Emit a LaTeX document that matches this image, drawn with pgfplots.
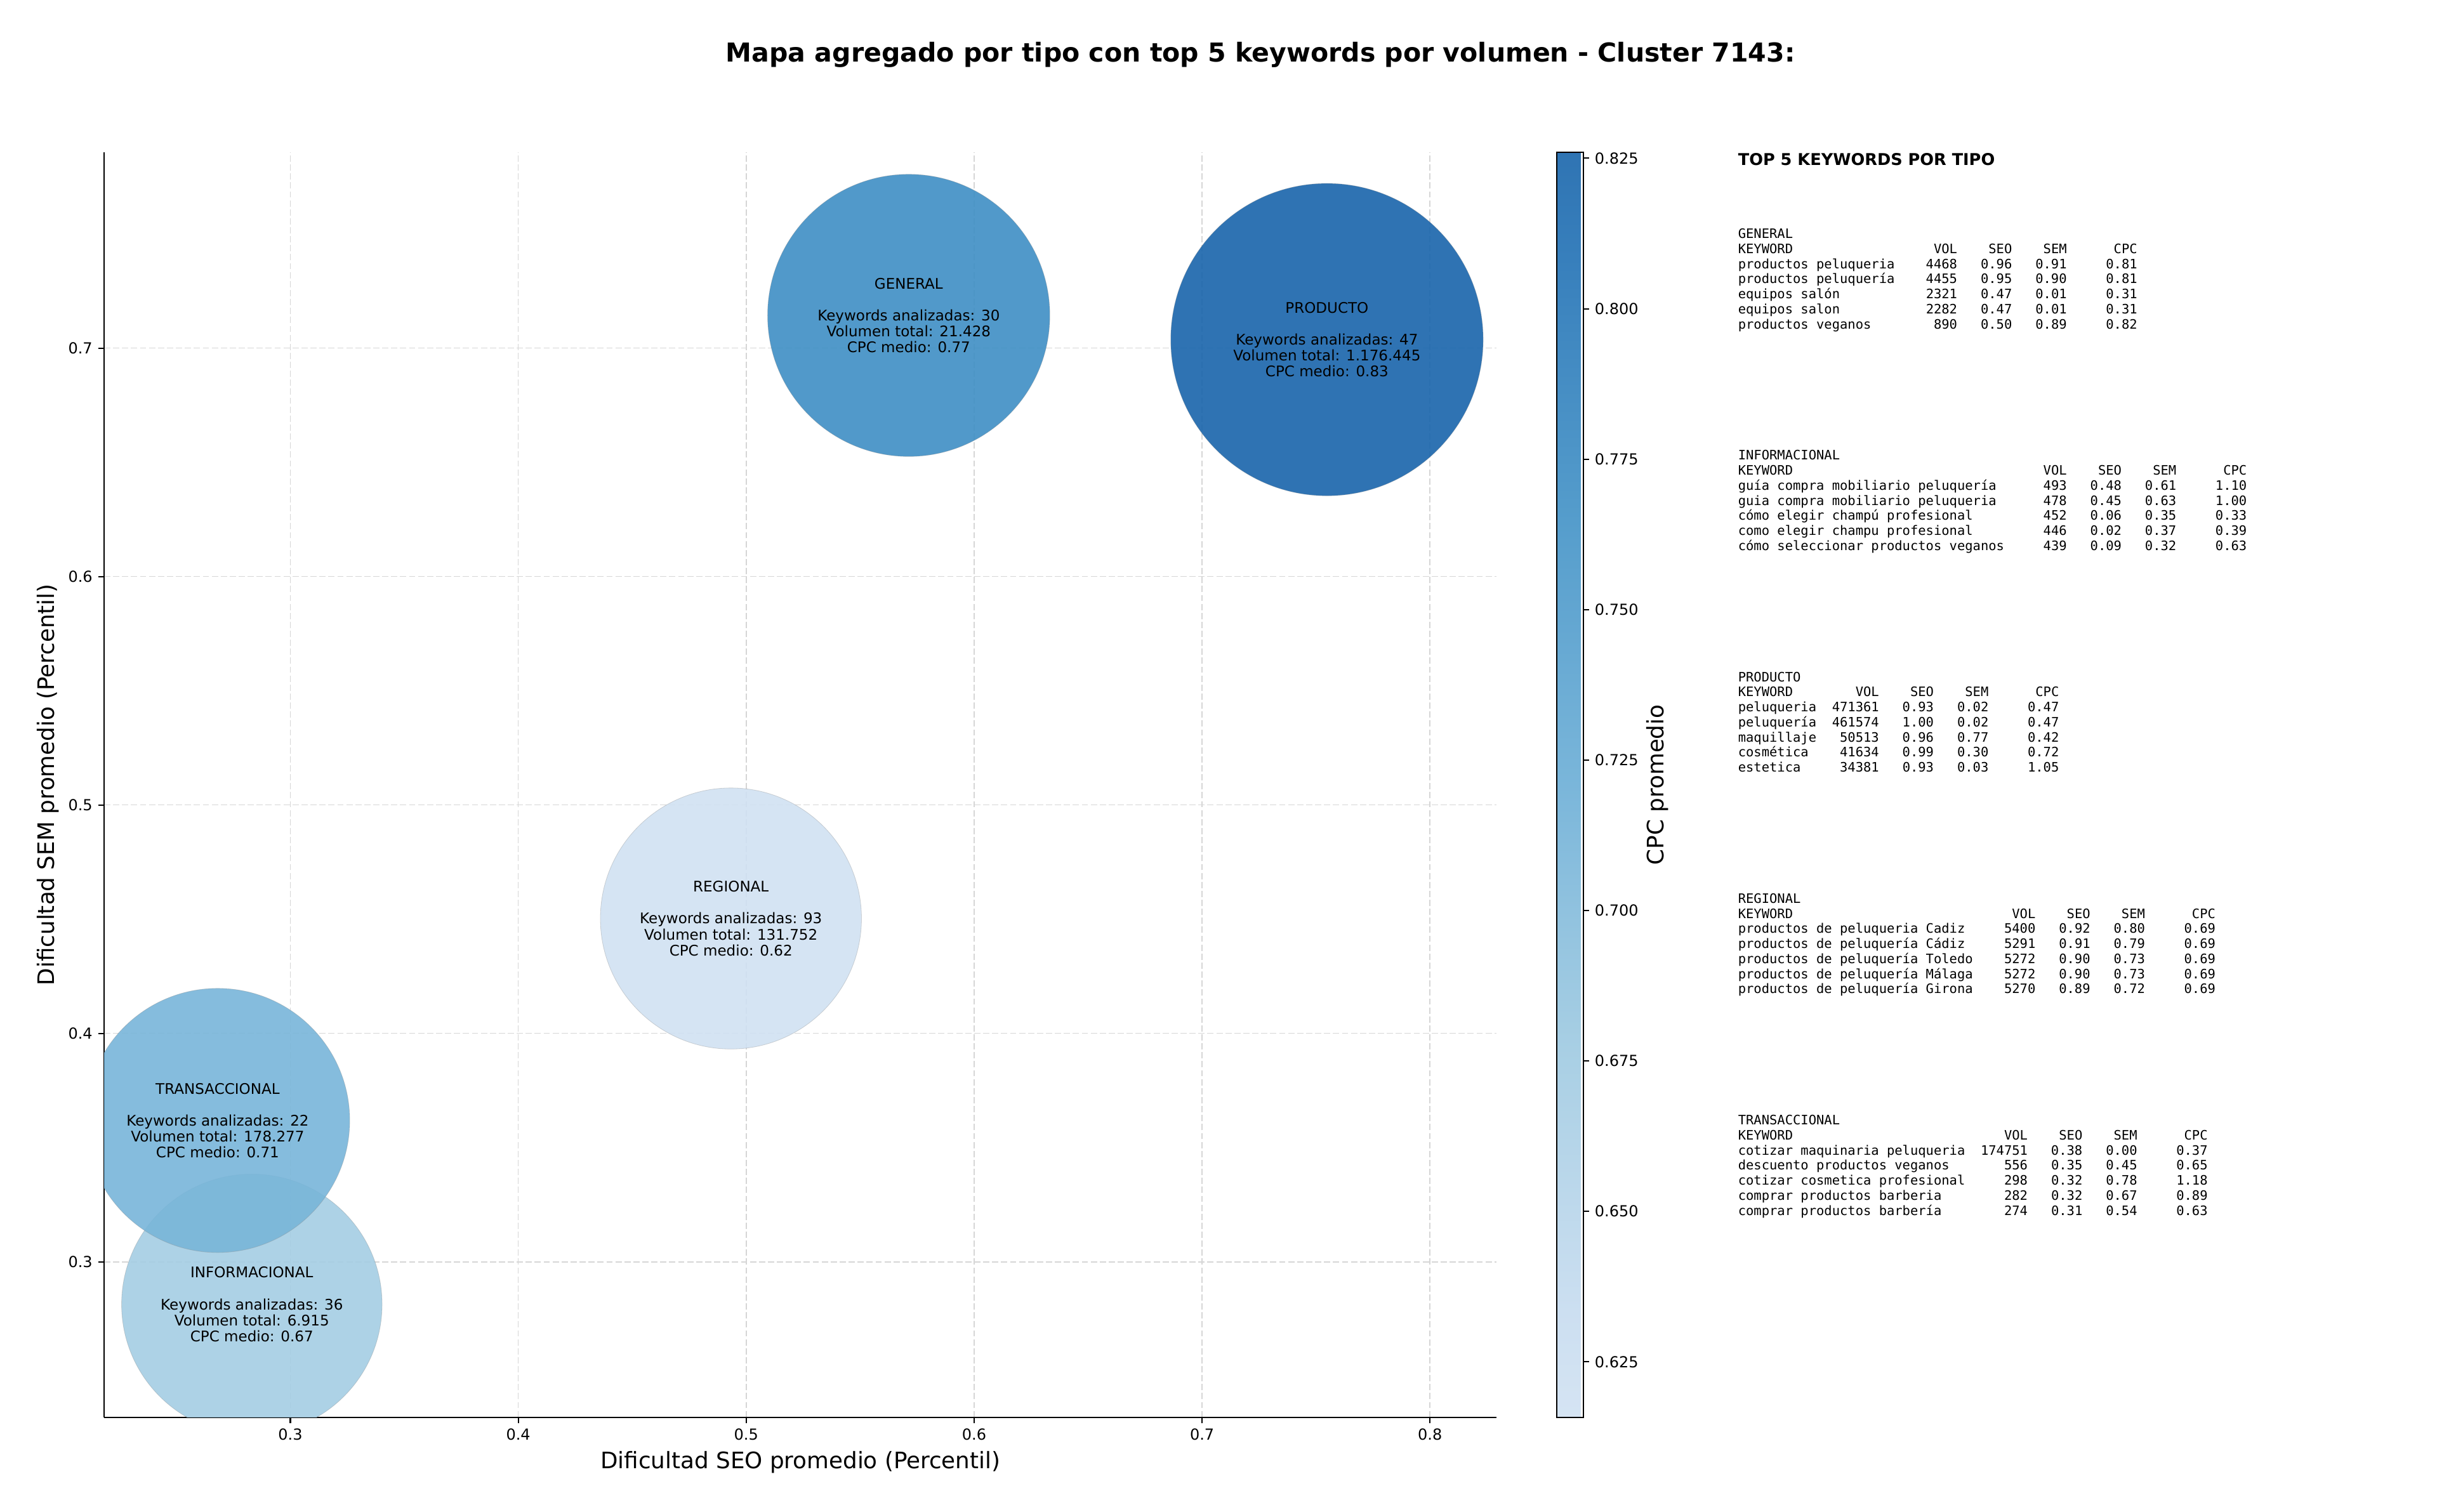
\documentclass[border=0pt]{standalone}
\usepackage{pgfplots}
\pgfplotsset{compat=1.18}
\usepackage{fontspec}
\setmainfont{DejaVu Sans}
\newfontfamily\monofont{DejaVu Sans Mono}
\newcommand\tabfont{\monofont\fontsize{7.68}{8.9}\selectfont}
\newcommand\bubfont{\fontsize{8.64}{9.4}\selectfont}
\newcommand\tickfont{\fontsize{9}{10}\selectfont}
\newcommand\labfont{\fontsize{13.4}{15}\selectfont}
\newlength\cw
\newcommand\row[6]{\makebox[#1\cw][l]{#2}\makebox[8\cw][r]{#3}\makebox[7\cw][r]{#4}\makebox[7\cw][r]{#5}\makebox[9\cw][r]{#6}}
\newcommand\tabline[3]{\node[anchor=base west, inner sep=0pt, font=\tabfont] at (1026.85pt,{-(#1+#2*8.91)*1pt}) {#3};}
\pgfplotsset{
 colormap={bluesraw}{rgb255(0cm)=(208,225,242); rgb255(0.833cm)=(198,219,239); rgb255(2.917cm)=(158,202,225); rgb255(5cm)=(107,174,214); rgb255(7.083cm)=(66,146,198); rgb255(9.167cm)=(33,113,181); rgb255(10cm)=(24,100,171)},
 colormap={bluesbar}{rgb255(0cm)=(213,228,243); rgb255(0.833cm)=(204,223,241); rgb255(2.917cm)=(168,207,228); rgb255(5cm)=(122,182,218); rgb255(7.083cm)=(85,157,204); rgb255(9.167cm)=(55,127,188); rgb255(10cm)=(47,116,179)},
}
\begin{document}
\settowidth\cw{\tabfont 0}%
\begin{tikzpicture}
\path[use as bounding box] (0pt,0pt) rectangle (1440pt,-893.6pt);
\node[anchor=base, inner sep=0pt, font=\bfseries\fontsize{15.4}{18}\selectfont] at (744.8pt,-36.46pt) {Mapa agregado por tipo con top 5 keywords por volumen - Cluster 7143:};
\begin{axis}[
  at={(61.53pt,-837.58pt)}, anchor=south west,
  scale only axis, width=822.89pt, height=747.58pt,
  xmin=0.2183, xmax=0.8293, ymin=0.232, ymax=0.7857,
  enlargelimits=false,
  axis x line*=bottom, axis y line*=left,
  axis line style={-, black, line width=0.77pt},
  tick pos=left, tick align=outside, major tick length=3.36pt,
  tick style={black, line width=0.77pt},
  xtick={0.3,0.4,0.5,0.6,0.7,0.8}, xticklabels={0.3,0.4,0.5,0.6,0.7,0.8},
  ytick={0.3,0.4,0.5,0.6,0.7}, yticklabels={0.3,0.4,0.5,0.6,0.7},
  ticklabel style={font=\tickfont},
  /pgf/number format/assume math mode=true,
  grid=major,
  grid style={black!16, line width=0.6pt, dash pattern=on 3.7pt off 1.6pt},
  xlabel={Dificultad SEO promedio (Percentil)},
  ylabel={Dificultad SEM promedio (Percentil)},
  xlabel style={at={(axis description cs:0.5,-0.0356)}, anchor=center, font=\labfont},
  ylabel style={at={(axis description cs:-0.0402,0.5)}, anchor=center, font=\labfont},
  clip marker paths=true,
  colormap name=bluesraw,
  point meta min=0.6158, point meta max=0.8260,
  colorbar,
  colorbar style={
    colormap name=bluesbar,
    at={(parent axis.north east)}, anchor=north west, xshift=26.9pt,
    scale only axis, width=15.61pt, height=747.58pt,
    axis line style={black, line width=0.77pt},
    ytick={0.625,0.650,0.675,0.700,0.725,0.750,0.775,0.800,0.825},
    yticklabels={0.625,0.650,0.675,0.700,0.725,0.750,0.775,0.800,0.825},
    yticklabel pos=right, ytick pos=right,
    tick align=outside, major tick length=3.36pt,
    tick style={black, line width=0.77pt},
    yticklabel style={font=\tickfont},
    ylabel={CPC promedio},
    ylabel style={at={(axis description cs:3.82,0.5)}, anchor=center, font=\labfont},
  },
]
% INFORMACIONAL
\addplot[scatter, only marks, mark=*, mark size=76.96pt, point meta=explicit,
  scatter/use mapped color={draw=black!45, fill=mapped color},
  mark options={fill opacity=0.9, draw opacity=0.35, line width=0.3pt}]
  coordinates {(0.2831,0.2814) [0.67]};
% TRANSACCIONAL
\addplot[scatter, only marks, mark=*, mark size=78.06pt, point meta=explicit,
  scatter/use mapped color={draw=black!45, fill=mapped color},
  mark options={fill opacity=0.9, draw opacity=0.35, line width=0.3pt}]
  coordinates {(0.2681,0.3619) [0.71]};
% REGIONAL
\addplot[scatter, only marks, mark=*, mark size=77.15pt, point meta=explicit,
  scatter/use mapped color={draw=black!45, fill=mapped color},
  mark options={fill opacity=0.9, draw opacity=0.35, line width=0.3pt}]
  coordinates {(0.4933,0.4503) [0.6158]};
% GENERAL
\addplot[scatter, only marks, mark=*, mark size=83.39pt, point meta=explicit,
  scatter/use mapped color={draw=black!45, fill=mapped color},
  mark options={fill opacity=0.9, draw opacity=0.35, line width=0.3pt}]
  coordinates {(0.5713,0.7143) [0.77]};
% PRODUCTO
\addplot[scatter, only marks, mark=*, mark size=92.30pt, point meta=explicit,
  scatter/use mapped color={draw=black!45, fill=mapped color},
  mark options={fill opacity=0.9, draw opacity=0.35, line width=0.3pt}]
  coordinates {(0.7548,0.7037) [0.826]};
\node[align=center, inner sep=0pt, font=\bubfont] at (axis cs:0.2831,0.2814) {INFORMACIONAL\\[9.4pt]Keywords analizadas: 36\\Volumen total: 6.915\\CPC medio: 0.67};
\node[align=center, inner sep=0pt, font=\bubfont] at (axis cs:0.2681,0.3619) {TRANSACCIONAL\\[9.4pt]Keywords analizadas: 22\\Volumen total: 178.277\\CPC medio: 0.71};
\node[align=center, inner sep=0pt, font=\bubfont] at (axis cs:0.4933,0.4503) {REGIONAL\\[9.4pt]Keywords analizadas: 93\\Volumen total: 131.752\\CPC medio: 0.62};
\node[align=center, inner sep=0pt, font=\bubfont] at (axis cs:0.5713,0.7143) {GENERAL\\[9.4pt]Keywords analizadas: 30\\Volumen total: 21.428\\CPC medio: 0.77};
\node[align=center, inner sep=0pt, font=\bubfont] at (axis cs:0.7548,0.7037) {PRODUCTO\\[9.4pt]Keywords analizadas: 47\\Volumen total: 1.176.445\\CPC medio: 0.83};
\end{axis}
\node[anchor=base west, inner sep=0pt, font=\bfseries\fontsize{9.6}{11}\selectfont] at (1026.85pt,-97.53pt) {TOP 5 KEYWORDS POR TIPO};
% GENERAL
\tabline{140.88}{0}{GENERAL}
\tabline{140.88}{1}{\row{20}{KEYWORD}{VOL}{SEO}{SEM}{CPC}}
\tabline{140.88}{2}{\row{20}{productos peluqueria}{4468}{0.96}{0.91}{0.81}}
\tabline{140.88}{3}{\row{20}{productos peluquería}{4455}{0.95}{0.90}{0.81}}
\tabline{140.88}{4}{\row{20}{equipos salón}{2321}{0.47}{0.01}{0.31}}
\tabline{140.88}{5}{\row{20}{equipos salon}{2282}{0.47}{0.01}{0.31}}
\tabline{140.88}{6}{\row{20}{productos veganos}{890}{0.50}{0.89}{0.82}}
% INFORMACIONAL
\tabline{271.85}{0}{INFORMACIONAL}
\tabline{271.85}{1}{\row{34}{KEYWORD}{VOL}{SEO}{SEM}{CPC}}
\tabline{271.85}{2}{\row{34}{guía compra mobiliario peluquería}{493}{0.48}{0.61}{1.10}}
\tabline{271.85}{3}{\row{34}{guia compra mobiliario peluqueria}{478}{0.45}{0.63}{1.00}}
\tabline{271.85}{4}{\row{34}{cómo elegir champú profesional}{452}{0.06}{0.35}{0.33}}
\tabline{271.85}{5}{\row{34}{como elegir champu profesional}{446}{0.02}{0.37}{0.39}}
\tabline{271.85}{6}{\row{34}{cómo seleccionar productos veganos}{439}{0.09}{0.32}{0.63}}
% PRODUCTO
\tabline{402.81}{0}{PRODUCTO}
\tabline{402.81}{1}{\row{10}{KEYWORD}{VOL}{SEO}{SEM}{CPC}}
\tabline{402.81}{2}{\row{10}{peluqueria}{471361}{0.93}{0.02}{0.47}}
\tabline{402.81}{3}{\row{10}{peluquería}{461574}{1.00}{0.02}{0.47}}
\tabline{402.81}{4}{\row{10}{maquillaje}{50513}{0.96}{0.77}{0.42}}
\tabline{402.81}{5}{\row{10}{cosmética}{41634}{0.99}{0.30}{0.72}}
\tabline{402.81}{6}{\row{10}{estetica}{34381}{0.93}{0.03}{1.05}}
% REGIONAL
\tabline{533.77}{0}{REGIONAL}
\tabline{533.77}{1}{\row{30}{KEYWORD}{VOL}{SEO}{SEM}{CPC}}
\tabline{533.77}{2}{\row{30}{productos de peluqueria Cadiz}{5400}{0.92}{0.80}{0.69}}
\tabline{533.77}{3}{\row{30}{productos de peluquería Cádiz}{5291}{0.91}{0.79}{0.69}}
\tabline{533.77}{4}{\row{30}{productos de peluquería Toledo}{5272}{0.90}{0.73}{0.69}}
\tabline{533.77}{5}{\row{30}{productos de peluquería Málaga}{5272}{0.90}{0.73}{0.69}}
\tabline{533.77}{6}{\row{30}{productos de peluquería Girona}{5270}{0.89}{0.72}{0.69}}
% TRANSACCIONAL
\tabline{664.74}{0}{TRANSACCIONAL}
\tabline{664.74}{1}{\row{29}{KEYWORD}{VOL}{SEO}{SEM}{CPC}}
\tabline{664.74}{2}{\row{29}{cotizar maquinaria peluqueria}{174751}{0.38}{0.00}{0.37}}
\tabline{664.74}{3}{\row{29}{descuento productos veganos}{556}{0.35}{0.45}{0.65}}
\tabline{664.74}{4}{\row{29}{cotizar cosmetica profesional}{298}{0.32}{0.78}{1.18}}
\tabline{664.74}{5}{\row{29}{comprar productos barberia}{282}{0.32}{0.67}{0.89}}
\tabline{664.74}{6}{\row{29}{comprar productos barbería}{274}{0.31}{0.54}{0.63}}
\end{tikzpicture}
\end{document}
